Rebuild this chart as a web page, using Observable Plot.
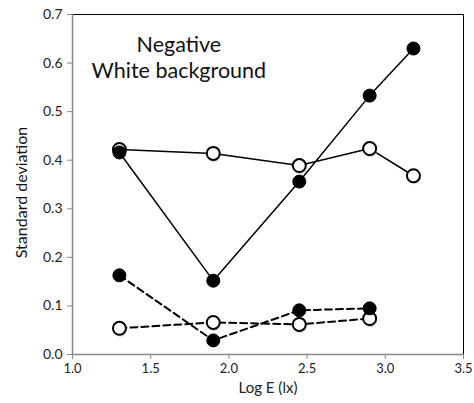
<!DOCTYPE html>
<html>
<head>
<meta charset="utf-8">
<script src="https://cdn.jsdelivr.net/npm/d3@7"></script>
<script src="https://cdn.jsdelivr.net/npm/@observablehq/plot@0.6"></script>
<style>
  html, body { margin: 0; padding: 0; background: #fff; }
  #chart svg { display: block; }
</style>
</head>
<body>
<div id="chart"></div>
<script>
const logE = [1.30, 1.90, 2.45, 2.90, 3.18];
const solidFilled = [0.416, 0.152, 0.356, 0.533, 0.630];
const solidOpen = [0.422, 0.414, 0.389, 0.424, 0.368];
const dashedFilled = [0.163, 0.029, 0.091, 0.095];
const dashedOpen = [0.054, 0.066, 0.062, 0.074];
const xTicks = [1.0, 1.5, 2.0, 2.5, 3.0, 3.5];
const yTicks = [0.0, 0.1, 0.2, 0.3, 0.4, 0.5, 0.6, 0.7];
const noteLines = ["Negative", "White background"];
const noteX = [1.68, 1.68];
const noteY = [0.638, 0.584];
const yTitle = "Standard deviation";

const toRows = (vals) => vals.map((v, i) => ({x: logE[i], y: v}));
const sF = toRows(solidFilled), sO = toRows(solidOpen);
const dF = toRows(dashedFilled), dO = toRows(dashedOpen);
const notes = noteLines.map((t, i) => ({t, x: noteX[i], y: noteY[i]}));

const font = "Lato, 'Open Sans', sans-serif";
const chart = Plot.plot({
  width: 474, height: 403,
  marginLeft: 72, marginRight: 11, marginTop: 14, marginBottom: 49,
  style: {fontFamily: font, fontSize: "13px", color: "#222", background: "#fff"},
  x: {domain: [1, 3.5]},
  y: {domain: [0, 0.7]},
  marks: [
    Plot.ruleY([0.7], {stroke: "#000", strokeWidth: 1}),
    Plot.ruleX([3.5], {stroke: "#000", strokeWidth: 1}),
    Plot.ruleX([1], {stroke: "#888", strokeWidth: 1.5}),
    Plot.ruleY([0], {stroke: "#888", strokeWidth: 1.5}),
    Plot.axisX({ticks: xTicks, tickSize: 5, stroke: "#888", tickFormat: d3.format(".1f"),
      tickPadding: 4, fontSize: 13, label: null}),
    Plot.axisX({ticks: [], label: "Log E (lx)", fontSize: 15, labelAnchor: "center", labelArrow: "none", labelOffset: 38}),
    Plot.axisY({ticks: yTicks, tickSize: 5, stroke: "#888", tickFormat: d3.format(".1f"),
      tickPadding: 5, fontSize: 14, label: null}),
    Plot.text([yTitle], {frameAnchor: "left", text: d => d, rotate: -90, fontSize: 16, fill: "#111",
      dx: -51, dy: 8, textAnchor: "middle"}),
    Plot.line(sO, {x: "x", y: "y", stroke: "#000", strokeWidth: 1.5}),
    Plot.line(sF, {x: "x", y: "y", stroke: "#000", strokeWidth: 1.5}),
    Plot.line(dO, {x: "x", y: "y", stroke: "#000", strokeWidth: 2, strokeDasharray: "7,4"}),
    Plot.line(dF, {x: "x", y: "y", stroke: "#000", strokeWidth: 2, strokeDasharray: "7,4"}),
    Plot.dot([...sO, ...dO], {x: "x", y: "y", r: 6.5, fill: "#aaa", fillOpacity: 0.5, dx: 1, dy: 2}),
    Plot.dot([...sO, ...dO], {x: "x", y: "y", r: 6.5, fill: "#fff", stroke: "#000", strokeWidth: 2}),
    Plot.dot([...sF, ...dF], {x: "x", y: "y", r: 6.5, fill: "#000", stroke: "#000", strokeWidth: 1}),
    Plot.text(notes, {x: "x", y: "y", text: "t", fontSize: 21.5, fill: "#111", textAnchor: "middle"})
  ]
});
document.getElementById("chart").appendChild(chart);
</script>
</body>
</html>
